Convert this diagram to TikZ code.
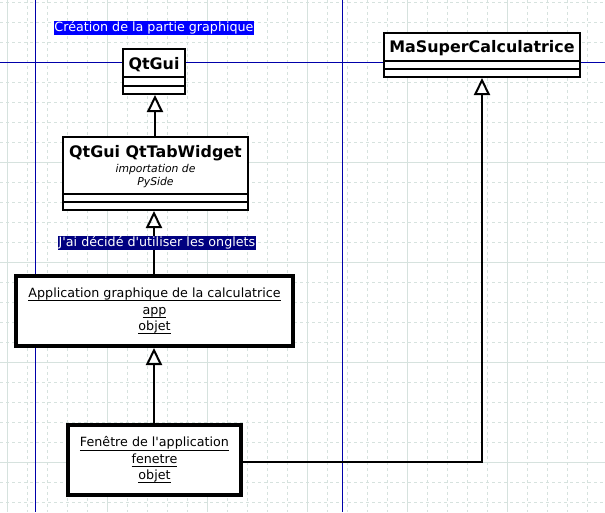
\documentclass[tikz,border=0pt]{standalone}
\usepackage{fontspec}
\setmainfont{DejaVu Sans}[Ligatures=TeXOff,ItalicFont={DejaVu Sans Oblique},BoldFont={DejaVu Sans Bold},BoldItalicFont={DejaVu Sans Bold Oblique}]
\usetikzlibrary{arrows.meta}
\definecolor{gridc}{RGB}{214,226,222}
\definecolor{guide}{RGB}{0,0,170}
\definecolor{lblblue}{RGB}{0,0,255}
\definecolor{lblnavy}{RGB}{0,0,128}
\newcommand\myul[1]{\setbox0\hbox{#1}\rlap{\rule[-3.6pt]{\wd0}{0.9pt}}\box0}
\begin{document}
\begin{tikzpicture}[x=1pt,y=-1pt,
  gridminor/.style={gridc, line width=1pt, dash pattern=on 3pt off 3pt},
  gridmajor/.style={gridc, line width=1pt},
  guideline/.style={guide, line width=1pt},
  classbox/.style={draw, fill=white, line width=2pt, inner sep=0pt},
  objbox/.style={draw, fill=white, line width=4pt, inner sep=0pt, align=center, font=\fontsize{12.7}{16.3}\selectfont},
  classtitle/.style={anchor=base, inner sep=0pt, font=\fontsize{15.9}{19}\selectfont\bfseries},
  stereo/.style={anchor=base, inner sep=0pt, font=\fontsize{10.8}{13}\selectfont\itshape},
  sepline/.style={line width=2pt},
  inherit/.style={line width=2pt, -{Triangle[open, length=17pt, width=16pt]}},
  tag/.style={text=white, inner sep=0.6pt, font=\fontsize{12.7}{15}\selectfont}
]
\useasboundingbox (0,0) rectangle (605,512);
\fill[white] (0,0) rectangle (605,512);
% grid
\foreach \x in {7.5,27.5,...,605} \draw[gridminor] (\x,0) -- (\x,512);
\foreach \y in {2.5,22.5,...,512} \draw[gridminor] (0,\y) -- (605,\y);
\foreach \x in {7.5,107.5,...,605} \draw[gridmajor] (\x,0) -- (\x,512);
\foreach \y in {62.5,162.5,...,512} \draw[gridmajor] (0,\y) -- (605,\y);
% guide lines
\draw[guideline] (0,62.5) -- (605,62.5);
\draw[guideline] (35.5,0) -- (35.5,512);
\draw[guideline] (342.5,0) -- (342.5,512);

% QtGui class
\node[classbox, minimum width=62pt, minimum height=45pt] (qtgui) at (154,71.5) {};
\node[classtitle] (qtguit) at (154,69) {QtGui};
\draw[sepline] (qtgui.west |- 0,77) -- (qtgui.east |- 0,77);
\draw[sepline] (qtgui.west |- 0,86) -- (qtgui.east |- 0,86);

% QtTabWidget class
\node[classbox, minimum width=185pt, minimum height=73pt] (qttab) at (155.5,173.5) {};
\node[classtitle] (qttabt) at (155.5,157) {QtGui QtTabWidget};
\node[stereo] (qttabs1) at (155.5,172.3) {importation de};
\node[stereo] (qttabs2) at (155.5,185.7) {PySide};
\draw[sepline] (qttab.west |- 0,194) -- (qttab.east |- 0,194);
\draw[sepline] (qttab.west |- 0,202) -- (qttab.east |- 0,202);

% MaSuperCalculatrice class
\node[classbox, minimum width=196pt, minimum height=44pt] (masc) at (482,55) {};
\node[classtitle] (masct) at (482,52) {MaSuperCalculatrice};
\draw[sepline] (masc.west |- 0,61) -- (masc.east |- 0,61);
\draw[sepline] (masc.west |- 0,69) -- (masc.east |- 0,69);

% objects
\node[objbox, minimum width=277pt, minimum height=70pt] (app) at (154.5,311)
  {\myul{Application graphique de la calculatrice}\\\myul{app}\\\myul{objet}};
\node[objbox, minimum width=173pt, minimum height=70pt] (fen) at (154.5,460)
  {\myul{Fenêtre de l'application}\\\myul{fenetre}\\\myul{objet}};

% connectors
\draw[inherit] (qttab.north -| 155,0) -- (qtgui.south -| 155,0);
\draw[inherit] (app.north -| 154,0) -- (qttab.south -| 154,0);
\draw[inherit] (fen.north -| 154,0) -- (app.south -| 154,0);
\draw[inherit] ([yshift=-2pt]fen.east) -| (masc.south);

% labels
\node[tag, fill=lblblue] (titre) at (154,27.5) {Création de la partie graphique};
\node[tag, fill=lblnavy] (onglets) at (157,243) {J'ai décidé d'utiliser les onglets};
\end{tikzpicture}
\end{document}
